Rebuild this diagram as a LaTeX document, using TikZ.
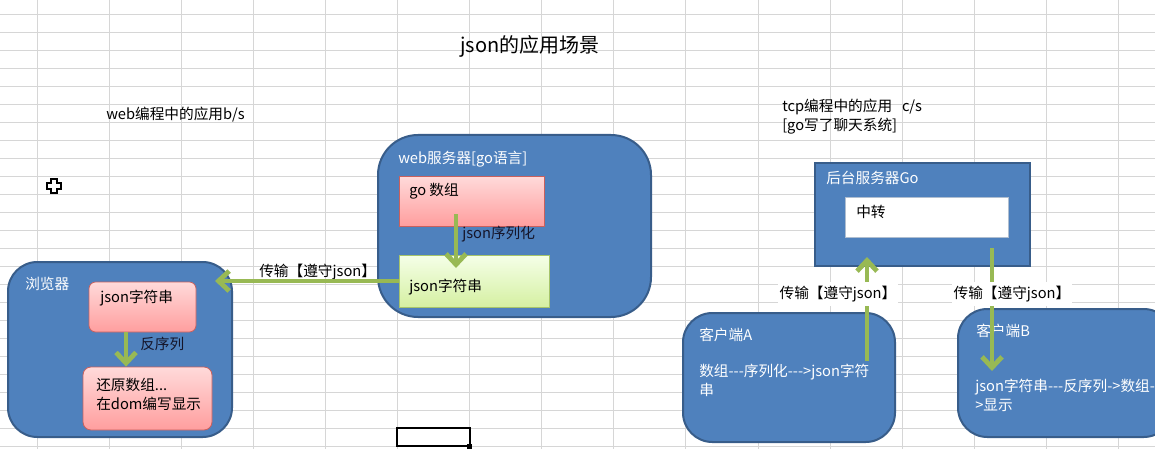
\documentclass[tikz,border=0pt]{standalone}
\usepackage{fontspec}
\setmainfont{Noto Sans CJK SC}
\usetikzlibrary{arrows.meta}
\definecolor{gridc}{HTML}{D6D6D6}
\definecolor{blueF}{HTML}{4F81BD}
\definecolor{blueD}{HTML}{385D8A}
\definecolor{pinkT}{HTML}{FFDADA}
\definecolor{pinkB}{HTML}{FF9E9E}
\definecolor{pinkD}{HTML}{C9605D}
\definecolor{greenT}{HTML}{F5FFE8}
\definecolor{greenB}{HTML}{D5F0A2}
\definecolor{greenD}{HTML}{A6C46A}
\definecolor{arrowG}{HTML}{98B954}
\definecolor{darkT}{HTML}{15152A}
\begin{document}
\begin{tikzpicture}[x=0.75pt,y=-0.75pt,
  bluebox/.style={draw=blueD, line width=1.5pt, fill=blueF, inner sep=0pt},
  pinkbox/.style={draw=pinkD, line width=0.6pt, top color=pinkT, bottom color=pinkB, inner sep=0pt},
  greenbox/.style={draw=greenD, line width=0.6pt, top color=greenT, bottom color=greenB, inner sep=0pt},
  whitebox/.style={draw=blueD!40, line width=0.5pt, fill=white, inner sep=0pt},
  txt/.style={anchor=west, inner sep=0pt, font=\fontsize{11}{14.25}\selectfont, align=left},
  wtxt/.style={txt, text=white},
  boxtxt/.style={txt, fill=white, inner xsep=1pt, inner ysep=3pt},
  garrow/.style={draw=arrowG, line width=3.6pt, -{Straight Barb[length=8pt,width=15pt]}},
]
\useasboundingbox (0,0) rectangle (1155,449);
\fill[white] (0,0) rectangle (1155,449);
\clip (0,0) rectangle (1155,449);
% spreadsheet grid
\foreach \i in {0,...,15} \draw[gridc, line width=0.7pt] ({37+72.1*\i},0) -- ({37+72.1*\i},449);
\foreach \j in {0,...,24} \draw[gridc, line width=0.7pt] (0,{14+18*\j}) -- (1155,{14+18*\j});

% selected cell and cursor
\draw[black, line width=1.6pt] (397,428) rectangle (470,446);
\fill[black] (467,444) rectangle (472,449);
\draw[black, fill=white, line width=1.2pt] (51,179) -- (57,179) -- (57,183) -- (61,183) -- (61,189) -- (57,189) -- (57,193) -- (51,193) -- (51,189) -- (47,189) -- (47,183) -- (51,183) -- cycle;

% title and captions
\node[inner sep=0pt, font=\fontsize{15}{18}\selectfont] (title) at (530,46) {json的应用场景};
\node[txt] (capweb) at (106,115) {web编程中的应用b/s};
\node[txt] (captcp) at (782,117) {tcp编程中的应用\ \ \ c/s\\{}[go写了聊天系统]};

% browser
\node[bluebox, rounded corners=22pt, minimum width=224*0.75pt, minimum height=175*0.75pt] (browser) at (120,349.5) {};
\node[wtxt] (browserlbl) at (25,284) {浏览器};
\node[pinkbox, rounded corners=5pt, minimum width=107*0.75pt, minimum height=50*0.75pt] (pj) at (142.5,307) {};
\node[txt] (pjlbl) at (100,298) {json字符串};
\node[pinkbox, rounded corners=6pt, minimum width=129*0.75pt, minimum height=63*0.75pt] (pb) at (147.5,398.5) {};
\node[txt] (pblbl) at (96,394.5) {还原数组...\\在dom编写显示};
\node[txt, text=darkT] (deslbl) at (140,344) {反序列};

% web server
\node[bluebox, rounded corners=30pt, minimum width=273*0.75pt, minimum height=182*0.75pt] (web) at (514.5,226) {};
\node[wtxt] (weblbl) at (398,159) {web服务器[go语言]};
\node[pinkbox, minimum width=145*0.75pt, minimum height=50*0.75pt] (go) at (471.5,201) {};
\node[txt] (golbl) at (409,191) {go 数组};
\node[greenbox, minimum width=150*0.75pt, minimum height=52*0.75pt] (gj) at (474,281) {};
\node[txt] (gjlbl) at (409,287) {json字符串};
\node[txt, text=darkT] (serlbl) at (462,234) {json序列化};
\node[txt] (tr1) at (259,272) {传输【遵守json】};

% tcp side
\node[bluebox, minimum width=215*0.75pt, minimum height=103*0.75pt] (back) at (922.5,214.5) {};
\node[wtxt] (backlbl) at (826,178) {后台服务器Go};
\node[whitebox, minimum width=163*0.75pt, minimum height=40*0.75pt] (relay) at (926.5,217) {};
\node[txt] (relaylbl) at (856,212) {中转};
\node[bluebox, rounded corners=22pt, minimum width=212*0.75pt, minimum height=129*0.75pt] (ca) at (789,377.5) {};
\node[wtxt] (calbl) at (699,335) {客户端A};
\node[wtxt] (catxt) at (699,380.5) {数组-{}-{}-序列化-{}-{}->json字符\\串};
\node[bluebox, rounded corners=22pt, minimum width=215*0.75pt, minimum height=128*0.75pt] (cb) at (1065.5,373) {};
\node[wtxt] (cblbl) at (976,331) {客户端B};
\node[wtxt] (cbtxt) at (975,395.5) {json字符串-{}-{}-反序列->数组-\\>显示};

% connectors
\coordinate (a1e) at (215,281);
\coordinate (a2s) at (456,214);
\coordinate (a2e) at (456,268);
\coordinate (a3x) at (126,0);
\coordinate (a4s) at (867,361);
\coordinate (a4e) at (867,257);
\coordinate (a5s) at (992,248);
\coordinate (a5e) at (992,371);
\draw[garrow] (gj.west) -- (a1e);
\draw[garrow] (a2s) -- (a2e);
\draw[garrow] (pj.south -| a3x) -- (pb.north -| a3x);
\draw[garrow] (a4s) -- (a4e);
\draw[garrow] (a5s) -- (a5e);

% labels drawn over the arrows
\node[boxtxt] (tr2) at (778,294) {传输【遵守json】};
\node[boxtxt] (tr3) at (952,294) {传输【遵守json】};
\end{tikzpicture}
\end{document}
